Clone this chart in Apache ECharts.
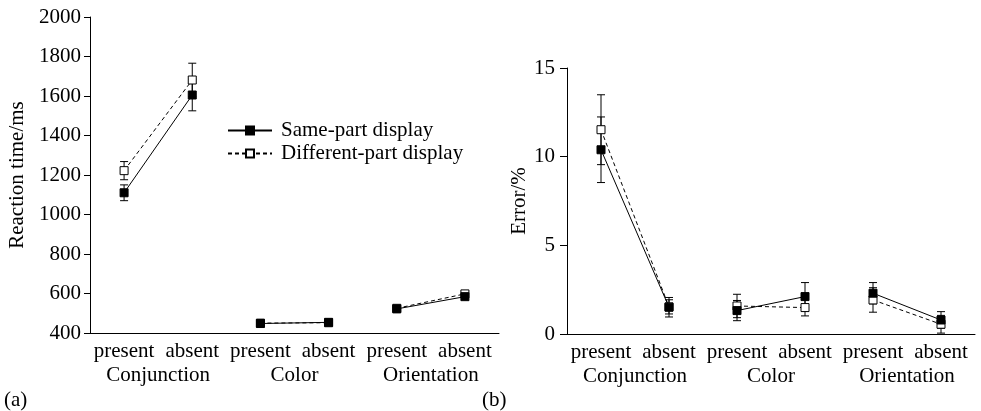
<!DOCTYPE html>
<html>
<head>
<meta charset="utf-8">
<script src="https://cdn.jsdelivr.net/npm/echarts@6/dist/echarts.min.js"></script>
<style>
  html, body { margin: 0; padding: 0; background: #fff; }
  #main { width: 981px; height: 411px; }
</style>
</head>
<body>
<div id="main"></div>
<script>
// categories / groups
var categories = ['present', 'absent', 'present', 'absent', 'present', 'absent'];
var groups = ['Conjunction', 'Color', 'Orientation'];
var seriesNames = ['Same-part display', 'Different-part display'];

// (a) reaction time, ms
var rtSame = [1110, 1605, 448, 454, 522, 584];
var rtSameErr = [40, 80, 8, 8, 8, 10];
var rtDiff = [1222, 1681, 450, 452, 525, 598];
var rtDiffErr = [46, 85, 8, 8, 8, 10];

// (b) error, %
var erSame = [10.39, 1.51, 1.32, 2.11, 2.30, 0.79];
var erSameErr = [1.85, 0.55, 0.57, 0.79, 0.60, 0.47];
var erDiff = [11.52, 1.53, 1.58, 1.49, 1.92, 0.55];
var erDiffErr = [1.97, 0.4, 0.66, 0.47, 0.69, 0.5];

var font = 'Liberation Serif';
var fs = 21;

var chart = echarts.init(document.getElementById('main'));

// one line piece per group so pairs are not joined across groups
function pairData(vals, g) {
  return vals.map(function (v, i) {
    return (Math.floor(i / 2) === g) ? v : '-';
  });
}

function lineSeries(vals, idx, xi, yi) {
  var out = [];
  var filled = idx === 0;
  for (var g = 0; g < groups.length; g++) {
    out.push({
      name: seriesNames[idx],
      type: 'line',
      xAxisIndex: xi,
      yAxisIndex: yi,
      data: pairData(vals, g),
      symbol: 'rect',
      symbolSize: 8,
      showAllSymbol: true,
      connectNulls: false,
      silent: true,
      z: filled ? 4 : 3,
      itemStyle: {
        color: filled ? '#000' : '#fff',
        borderColor: '#000',
        borderWidth: 1
      },
      lineStyle: {
        color: '#000',
        width: 1,
        type: filled ? 'solid' : [4, 3]
      }
    });
  }
  return out;
}

function errSeries(vals, errs, xi, yi) {
  return {
    type: 'custom',
    xAxisIndex: xi,
    yAxisIndex: yi,
    silent: true,
    z: 2,
    data: vals.map(function (v, i) { return [i, v, errs[i]]; }),
    renderItem: function (params, api) {
      var x = api.value(0), v = api.value(1), e = api.value(2);
      var hi = api.coord([x, v + e]);
      var lo = api.coord([x, v - e]);
      var hw = 4;
      var st = { stroke: '#000', lineWidth: 1 };
      return {
        type: 'group',
        children: [
          { type: 'line', shape: { x1: hi[0], y1: hi[1], x2: lo[0], y2: lo[1] }, style: st },
          { type: 'line', shape: { x1: hi[0] - hw, y1: hi[1], x2: hi[0] + hw, y2: hi[1] }, style: st },
          { type: 'line', shape: { x1: lo[0] - hw, y1: lo[1], x2: lo[0] + hw, y2: lo[1] }, style: st }
        ]
      };
    }
  };
}

var txt = { color: '#000', fontFamily: font, fontSize: fs };

function catAxis(grid) {
  return {
    type: 'category',
    gridIndex: grid,
    data: categories,
    boundaryGap: true,
    axisLine: { lineStyle: { color: '#000', width: 1 } },
    axisTick: { alignWithLabel: true, length: 5, lineStyle: { color: '#000' } },
    axisLabel: Object.assign({ interval: 0, margin: 8 }, txt),
    splitLine: { show: false }
  };
}
function groupAxis(grid) {
  return {
    type: 'category',
    gridIndex: grid,
    data: groups,
    position: 'bottom',
    offset: 24,
    boundaryGap: true,
    axisLine: { show: false },
    axisTick: { show: false },
    axisLabel: Object.assign({ interval: 0, margin: 8 }, txt),
    splitLine: { show: false }
  };
}

function plain(v) { return String(v); }

var series = [];
series.push(errSeries(rtSame, rtSameErr, 0, 0));
series.push(errSeries(rtDiff, rtDiffErr, 0, 0));
series = series.concat(lineSeries(rtSame, 0, 0, 0), lineSeries(rtDiff, 1, 0, 0));
series.push(errSeries(erSame, erSameErr, 2, 1));
series.push(errSeries(erDiff, erDiffErr, 2, 1));
series = series.concat(lineSeries(erSame, 0, 2, 1), lineSeries(erDiff, 1, 2, 1));

var option = {
  animation: false,
  backgroundColor: '#fff',
  textStyle: { fontFamily: font },
  grid: [
    { left: 90, top: 17, width: 409, height: 316 },
    { left: 567, top: 68, width: 408, height: 266 }
  ],
  legend: {
    data: seriesNames,
    orient: 'vertical',
    left: 222,
    top: 115,
    itemWidth: 44,
    itemHeight: 10,
    itemGap: 2,
    textStyle: Object.assign({ padding: [0, 0, 0, 4] }, txt),
    selectedMode: false
  },
  xAxis: [catAxis(0), groupAxis(0), catAxis(1), groupAxis(1)],
  yAxis: [
    {
      type: 'value',
      gridIndex: 0,
      min: 400,
      max: 2000,
      interval: 200,
      name: 'Reaction time/ms',
      nameLocation: 'middle',
      nameGap: 62,
      nameTextStyle: txt,
      axisLine: { show: true, lineStyle: { color: '#000', width: 1 } },
      axisTick: { show: true, length: 6, lineStyle: { color: '#000' } },
      axisLabel: Object.assign({ margin: 9, formatter: plain }, txt),
      splitLine: { show: false }
    },
    {
      type: 'value',
      gridIndex: 1,
      min: 0,
      max: 15,
      interval: 5,
      name: 'Error/%',
      nameLocation: 'middle',
      nameGap: 36,
      nameTextStyle: txt,
      axisLine: { show: true, lineStyle: { color: '#000', width: 1 } },
      axisTick: { show: true, length: 7, lineStyle: { color: '#000' } },
      axisLabel: Object.assign({ margin: 12, formatter: plain }, txt),
      splitLine: { show: false }
    }
  ],
  graphic: [
    { type: 'text', left: 4, top: 390, style: { text: '(a)', fill: '#000', font: fs + 'px "' + font + '"' } },
    { type: 'text', left: 482, top: 390, style: { text: '(b)', fill: '#000', font: fs + 'px "' + font + '"' } }
  ],
  series: series
};

chart.setOption(option);
</script>
</body>
</html>
